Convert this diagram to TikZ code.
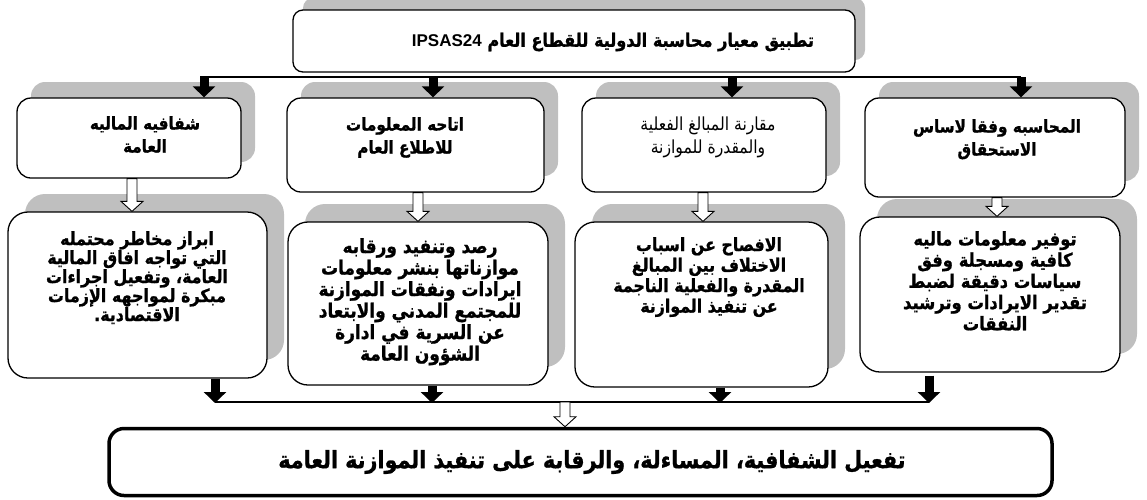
\documentclass[tikz,border=0pt]{standalone}
\usepackage{fontspec}
\setmainfont{Liberation Sans}
\newfontfamily\arabicfont[Script=Arabic, FakeStretch=0.87, BoldFeatures={FakeBold=1}]{DejaVu Sans}
\newfontfamily\latinfont{Liberation Sans}
\TeXXeTstate=1
\usetikzlibrary{arrows.meta,calc,shadows}
\definecolor{shadowgray}{RGB}{191,191,191}
\newcommand\ar[1]{\beginR #1\endR}
\tikzset{
  sbox/.style={draw, line width=1.3pt, fill=white, inner sep=0pt},
  hdr/.style={sbox, rounded corners=14pt, general shadow={fill=shadowgray, shadow xshift=14pt, shadow yshift=16pt}},
  bdy/.style={sbox, rounded corners=20pt, general shadow={fill=shadowgray, shadow xshift=17pt, shadow yshift=18pt}},
  topbox/.style={sbox, rounded corners=10pt, general shadow={fill=shadowgray, shadow xshift=10pt, shadow yshift=12pt}},
  endbox/.style={draw, line width=3.5pt, fill=white, rounded corners=15pt, inner sep=0pt},
  txt/.style={align=center, inner sep=0pt, anchor=north, font=\arabicfont\bfseries\fontsize{18.3}{19}\selectfont},
  htxt/.style={txt, font=\arabicfont\bfseries\fontsize{17.5}{23}\selectfont},
  htxtn/.style={txt, font=\arabicfont\mdseries\fontsize{18}{23}\selectfont},
  blk/.style={line width=9pt, -{Triangle[width=22pt,length=11pt]}},
  bus/.style={line width=1.2pt},
  hollow/.style={draw, fill=white, line width=0.9pt,
    to path={let \p1=(\tikztostart), \p2=(\tikztotarget) in
      (\x1-5pt,\y1) -- (\x1+5pt,\y1) -- (\x1+5pt,\y2+10pt) -- (\x1+11pt,\y2+10pt)
      -- (\x1,\y2) -- (\x1-11pt,\y2+10pt) -- (\x1-5pt,\y2+10pt) -- cycle}}
}
\begin{document}
\lineskiplimit=-100pt
\begin{tikzpicture}[x=1pt,y=-1pt]
\useasboundingbox (0,0) rectangle (1147,499);

% top box
\node[topbox, minimum width=562pt, minimum height=62pt] (top) at (574,41) {};
\node[txt, anchor=center, font=\arabicfont\bfseries\fontsize{18.5}{20}\selectfont] (toptxt) at (613,42)
  {\ar{تطبيق معيار محاسبة الدولية للقطاع العام \beginL{\latinfont\bfseries\fontsize{17}{20}\selectfont IPSAS24}\endL}};

% headers
\node[hdr, minimum width=224pt, minimum height=80pt] (h1) at (129,138) {};
\node[hdr, minimum width=257pt, minimum height=94pt] (h2) at (415.5,145) {};
\node[hdr, minimum width=244pt, minimum height=94pt] (h3) at (704,145) {};
\node[hdr, minimum width=260pt, minimum height=99pt] (h4) at (995,147.5) {};

\node[htxt] (h1t) at (145,116) {\ar{شفافيه الماليه}\\\ar{العامة}};
\node[htxt] (h2t) at (405,117) {\ar{اتاحه المعلومات}\\\ar{للاطلاع العام}};
\node[htxtn] (h3t) at (708,117) {\ar{مقارنة المبالغ الفعلية}\\\ar{والمقدرة للموازنة}};
\node[htxt] (h4t) at (997,119) {\ar{المحاسبه وفقا لاساس}\\\ar{الاستحقاق}};

% bodies
\node[bdy, minimum width=259pt, minimum height=166pt] (b1) at (137.5,295) {};
\node[bdy, minimum width=260pt, minimum height=163pt] (b2) at (418,303.5) {};
\node[bdy, minimum width=253pt, minimum height=165pt] (b3) at (701.5,304.5) {};
\node[bdy, minimum width=260pt, minimum height=155pt] (b4) at (990,294.5) {};

\node[txt] (b1t) at (137,231) {\ar{ابراز مخاطر محتمله}\\\ar{التي تواجه افاق المالية}\\\ar{العامة، وتفعيل اجراءات}\\\ar{مبكرة لمواجهه الإزمات}\\\ar{الاقتصادية.}};
\node[txt, font=\arabicfont\bfseries\fontsize{19.5}{21.5}\selectfont] (b2t) at (420,238) {\ar{رصد وتنفيد ورقابه}\\\ar{موازناتها بنشر معلومات}\\\ar{ايرادات ونفقات الموازنة}\\\ar{للمجتمع المدني والابتعاد}\\\ar{عن السرية في ادارة}\\\ar{الشؤون العامة}};
\node[txt, font=\arabicfont\bfseries\fontsize{18.2}{20.5}\selectfont] (b3t) at (709,237) {\ar{الافصاح عن اسباب}\\\ar{الاختلاف بين المبالغ}\\\ar{المقدرة والفعلية الناجمة}\\\ar{عن تنفيذ الموازنة}};
\node[txt, font=\arabicfont\bfseries\fontsize{18.8}{21.2}\selectfont] (b4t) at (995,231) {\ar{توفير معلومات ماليه}\\\ar{كافية ومسجلة وفق}\\\ar{سياسات دقيقة لضبط}\\\ar{تقدير الايرادات وترشيد}\\\ar{النفقات}};

% final box
\node[endbox, minimum width=943pt, minimum height=67pt] (fin) at (580.5,462) {};
\node[txt, anchor=center, font=\arabicfont\bfseries\fontsize{23.8}{25}\selectfont] (fint) at (592,462)
  {\ar{تفعيل الشفافية، المساءلة، والرقابة على تنفيذ الموازنة العامة}};

% top bus and arrows
\coordinate (t1) at (204,77);
\coordinate (t2) at (433,77);
\coordinate (t3) at (732,77);
\coordinate (t4) at (1021,77);
\draw[bus] ($(t1)+(-4,0)$) -- (t4);
\draw[blk] (t1) -- (t1 |- h1.north);
\draw[blk] (t2) -- (t2 |- h2.north);
\draw[blk] (t3) -- (t3 |- h3.north);
\draw[blk] (t4) -- (t4 |- h4.north);

% hollow arrows header -> body
\coordinate (a1) at (132,0);
\coordinate (a2) at (418,0);
\coordinate (a3) at (703,0);
\coordinate (a4) at (997,0);
\draw[hollow] (a1 |- h1.south) to (a1 |- b1.north);
\draw[hollow] (a2 |- h2.south) to (a2 |- b2.north);
\draw[hollow] (a3 |- h3.south) to (a3 |- b3.north);
\draw[hollow] (a4 |- h4.south) to (a4 |- b4.north);

% bottom arrows and bus
\coordinate (d1) at (215,403);
\coordinate (d2) at (432,403);
\coordinate (d3) at (720,403);
\coordinate (d4) at (929,403);
\draw[bus] ($(d1)+(0,-1)$) -- ($(d4)+(0,-1)$);
\draw[blk] (d1 |- b1.south) -- (d1);
\draw[blk] (d2 |- b2.south) -- (d2);
\draw[blk] (d3 |- b3.south) -- (d3);
\draw[blk] ($(d4 |- b4.south)+(0,3)$) -- (d4);
\coordinate (m) at (565,402);
\draw[hollow] (m) to (m |- fin.north);
\end{tikzpicture}
\end{document}
